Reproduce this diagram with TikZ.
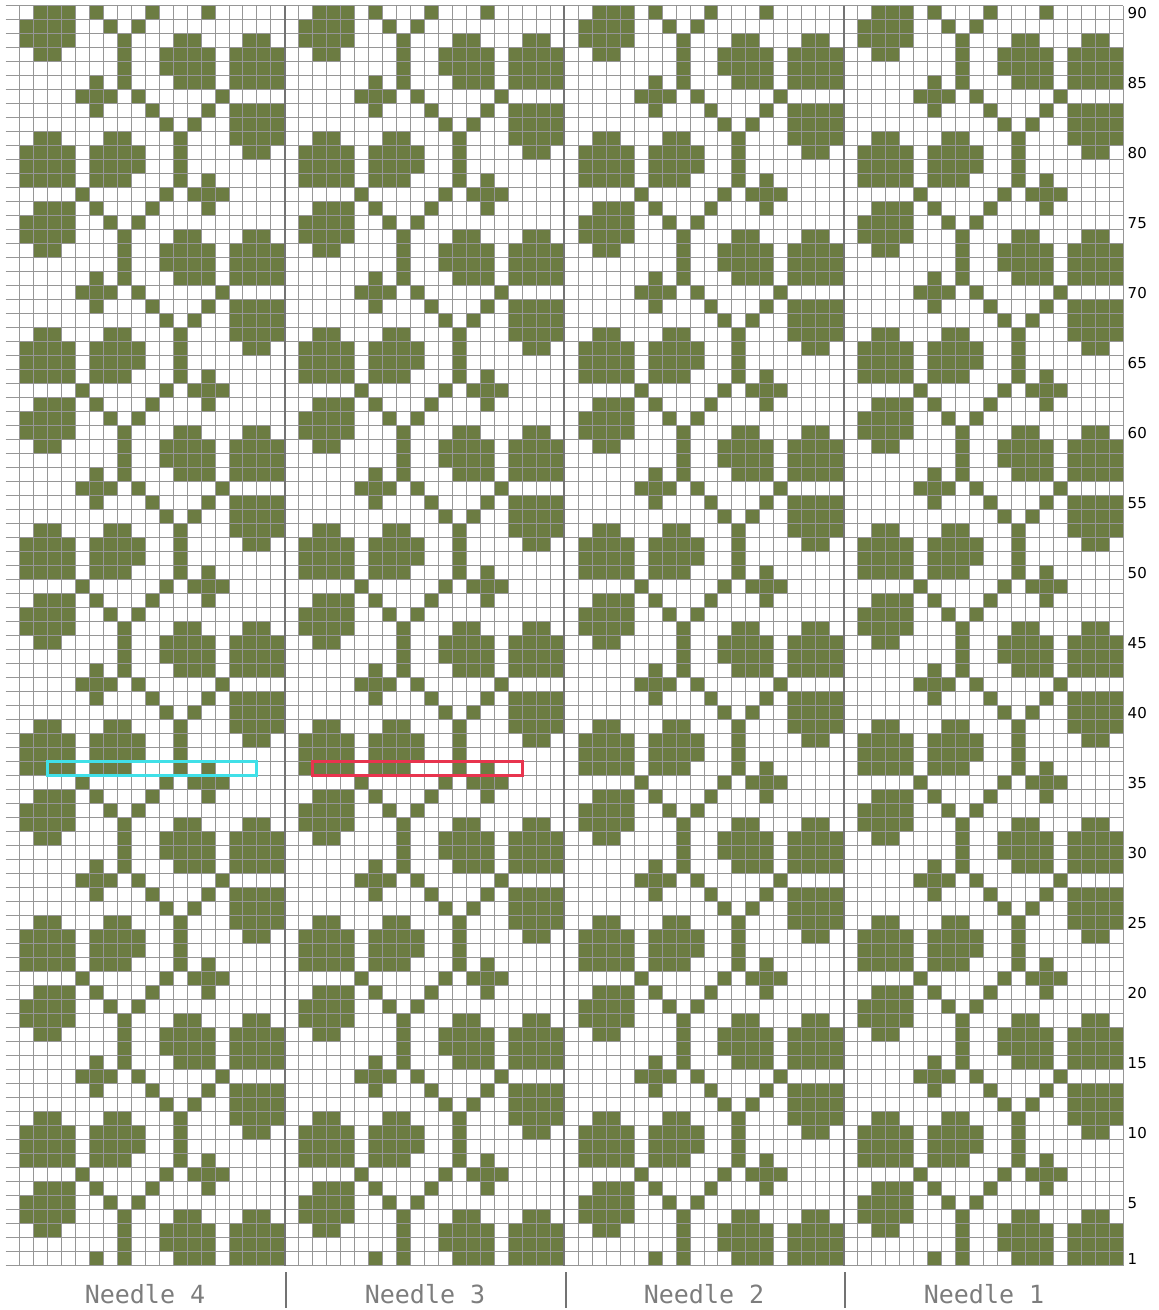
\documentclass[tikz,border=0pt]{standalone}
\usepackage{fontspec}
\newfontfamily\rowfont{DejaVu Sans}
\newfontfamily\needlefont{DejaVu Sans Mono}

\definecolor{stitch}{RGB}{108,124,66}
\definecolor{gridline}{RGB}{150,150,150}
\definecolor{divider}{RGB}{115,115,115}
\definecolor{needlegray}{RGB}{125,125,125}
\definecolor{markcyan}{RGB}{64,224,232}
\definecolor{markred}{RGB}{232,52,78}

% #1 = row number mod 14, #2 = coloured columns of the 20 wide repeat
\newcommand{\stitchrow}[2]{%
    \foreach \kk in {0,...,6}{
        \pgfmathtruncatemacro{\rownum}{#1+14*\kk}
        \ifnum\rownum>0 \ifnum\rownum<91
            \foreach \nd in {0,20,40,60}{
                \foreach \cl in {#2}{
                    \fill[cell] (\nd+\cl-1,\rownum-1) rectangle ++(1,1);
                }
            }
        \fi\fi
    }
}

\begin{document}
\begin{tikzpicture}[x=0.5pt, y=0.5pt,
    cell/.style={fill=stitch},
    thinline/.style={draw=gridline, line width=0.5pt},
    needleline/.style={draw=divider, line width=1pt},
    rowlabel/.style={anchor=west, inner sep=0pt, font=\rowfont\fontsize{7.5}{8}\selectfont},
    needlelabel/.style={text=needlegray, inner sep=0pt, font=\needlefont\fontsize{12.5}{14}\selectfont},
    highlight/.style={line width=1.5pt}]
    \useasboundingbox (0,0) rectangle (1158,1310);

    \begin{scope}[shift={(2.75pt,22pt)}, x=6.985pt, y=7pt]
        % one 20 x 14 repeat, the same on every needle
        \stitchrow{0}{6,7,8,10,16}
        \stitchrow{1}{7,9,13,14,15,17,18,19,20}
        \stitchrow{2}{9,12,13,14,15,17,18,19,20}
        \stitchrow{3}{3,4,9,12,13,14,15,17,18,19,20}
        \stitchrow{4}{2,3,4,5,9,13,14,18,19}
        \stitchrow{5}{2,3,4,5,8,10}
        \stitchrow{6}{3,4,5,7,11,15}
        \stitchrow{7}{6,12,14,15,16}
        \stitchrow{8}{2,3,4,5,7,8,9,13,15}
        \stitchrow{9}{2,3,4,5,7,8,9,10,13}
        \stitchrow{10}{2,3,4,5,7,8,9,10,13,18,19}
        \stitchrow{11}{3,4,8,9,13,17,18,19,20}
        \stitchrow{12}{12,14,17,18,19,20}
        \stitchrow{13}{7,11,15,17,18,19,20}

        \foreach \cl in {1,...,80}
            \draw[thinline] (\cl,0) -- (\cl,90);
        \foreach \rw in {0,...,90}
            \draw[thinline] (0,\rw) -- (80,\rw);
        \foreach \cl in {20,40,60}
            \draw[needleline] (\cl,0) -- (\cl,90);

        \draw[highlight, draw=markcyan] (3,35) rectangle (18,36);
        \draw[highlight, draw=markred] (22,35) rectangle (37,36);

        \foreach \rw in {1,5,10,...,90}
            \node[rowlabel] (row\rw) at (80.3,\rw-0.5) {\rw};
    \end{scope}

    \foreach \nd/\x in {4/145, 3/425, 2/704, 1/984}
        \node[needlelabel] (needle\nd) at (\x,16) {Needle \nd};
    \foreach \x in {286,566,845}
        \draw[needleline] (\x,2) -- (\x,38);
\end{tikzpicture}
\end{document}
